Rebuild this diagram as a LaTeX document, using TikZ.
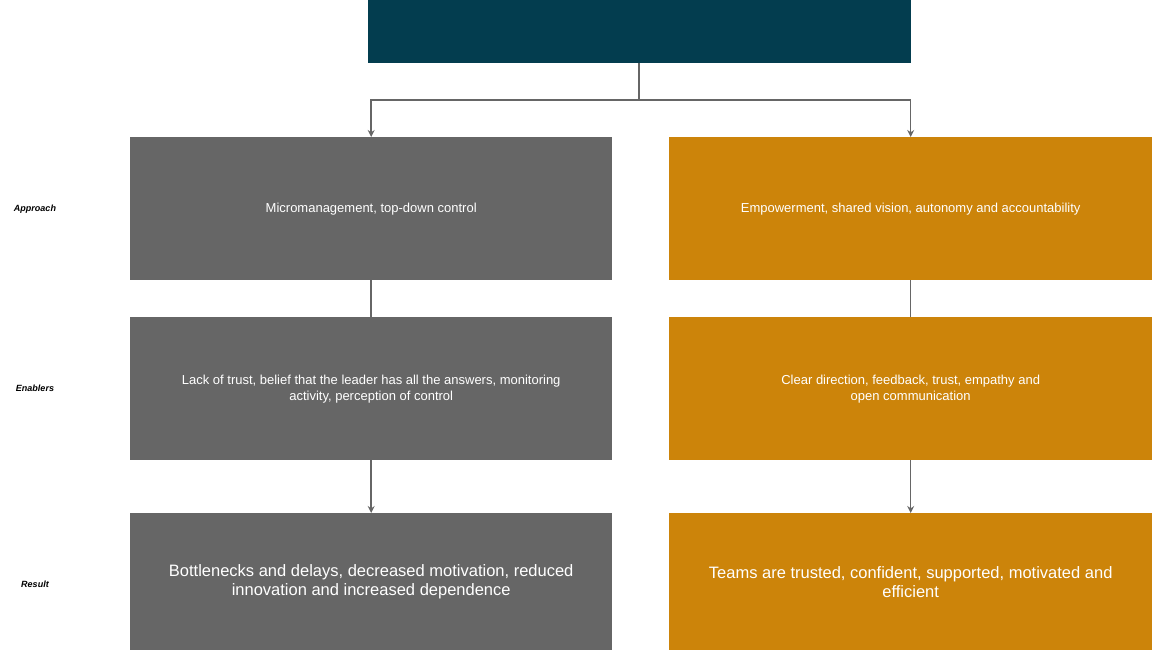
\documentclass[tikz,border=0pt]{standalone}
\usepackage{fontspec}
\setmainfont{Liberation Sans}
\usetikzlibrary{arrows.meta}
\definecolor{topc}{HTML}{033D4F}
\definecolor{grayc}{HTML}{666666}
\definecolor{orc}{HTML}{CC840A}
\begin{document}
\begin{tikzpicture}[x=1pt,y=-1pt,
 box/.style={minimum width=482pt,minimum height=143pt,inner sep=0pt,text=white,align=center,font=\fontsize{13}{16}\selectfont,anchor=north west},
 g/.style={box,fill=grayc},o/.style={box,fill=orc},
 lab/.style={font=\fontsize{9}{11}\selectfont\bfseries\itshape},
 ln/.style={draw=grayc,line width=1.5pt},
 ar/.style={ln,-{Stealth[length=7pt,width=7pt]}}]
\useasboundingbox (0,0) rectangle (1152,650);
\node[fill=topc,minimum width=543pt,minimum height=63pt,inner sep=0pt,anchor=north west] (top) at (368,0) {};
\node[g] (a1) at (130,137) {Micromanagement, top-down control};
\node[o,minimum width=483pt] (b1) at (669,137) {Empowerment, shared vision, autonomy and accountability};
\node[g] (a2) at (130,317) {Lack of trust, belief that the leader has all the answers, monitoring\\activity, perception of control};
\node[o,minimum width=483pt] (b2) at (669,317) {Clear direction, feedback, trust, empathy and\\open communication};
\node[g,minimum height=137pt,font=\fontsize{16.5}{19}\selectfont] (a3) at (130,513) {Bottlenecks and delays, decreased motivation, reduced\\innovation and increased dependence};
\node[o,minimum width=483pt,minimum height=137pt,font=\fontsize{16.5}{19}\selectfont] (b3) at (669,513) {Teams are trusted, confident, supported, motivated and\\efficient};
\node[lab] at (35,209) {Approach};
\node[lab] at (35,388) {Enablers};
\node[lab] at (35,584) {Result};
\coordinate (m) at (639,100);
\draw[ln] (top.south -| m) -- (m);
\draw[ar] (m) -| (a1.north);
\draw[ar] (m) -| (b1.north);
\draw[ln] (a1) -- (a2);
\draw[ln] (b1) -- (b2);
\draw[ar] (a2) -- (a3);
\draw[ar] (b2) -- (b3);
\end{tikzpicture}
\end{document}
